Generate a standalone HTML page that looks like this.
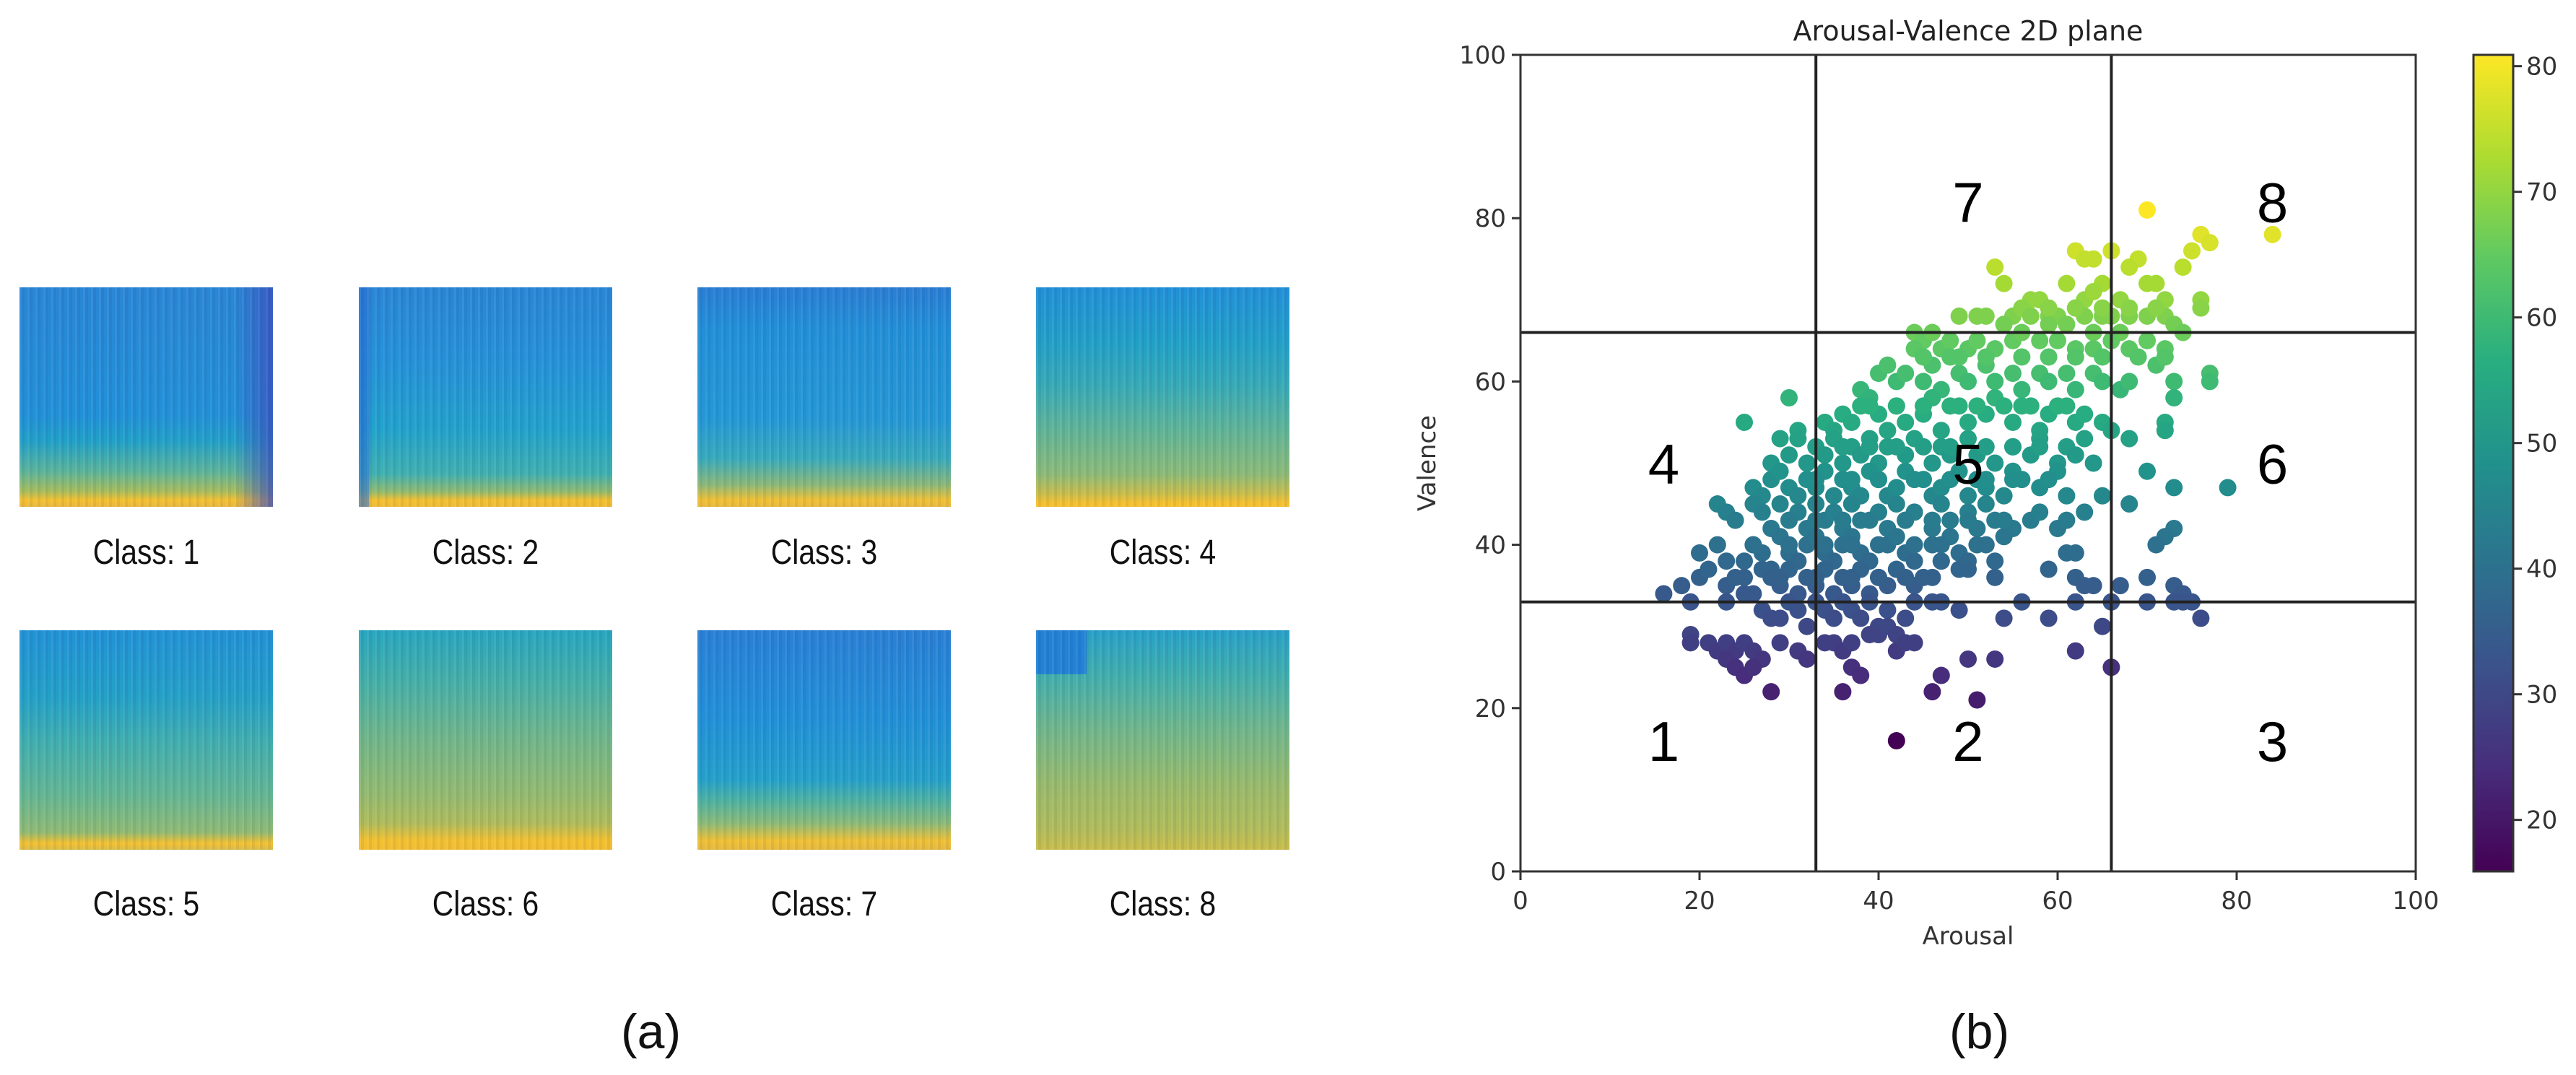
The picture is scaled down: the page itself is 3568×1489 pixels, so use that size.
<!DOCTYPE html>
<html><head><meta charset="utf-8">
<style>
html,body{margin:0;padding:0;background:#fff;}
body{width:3568px;height:1489px;position:relative;overflow:hidden;font-family:"Liberation Sans",sans-serif;}
.spec{position:absolute;width:351px;height:304px;}
.spec::after{content:"";position:absolute;inset:0;background:repeating-linear-gradient(90deg,rgba(255,255,255,0.06) 0 3px,rgba(0,0,40,0.05) 3px 7px,rgba(255,255,255,0) 7px 11px);}
.lbl{position:absolute;width:351px;text-align:center;font-size:48px;color:#111;transform:scaleX(0.85);}
.cap{position:absolute;font-size:68px;color:#111;}
</style></head>
<body>
<div>
<div class="spec" style="left:27px;top:398px;background:linear-gradient(90deg,rgba(0,0,0,0) 85%,rgba(60,80,190,0.8) 100%),linear-gradient(180deg,#2a86d6 0%,#2290d8 58%,#22a0c8 70%,#5cb49a 84%,#a8bc5c 93%,#f4c030 97%,#e8b840 100%);"></div>
<div class="spec" style="left:497px;top:398px;background:linear-gradient(90deg,rgba(40,110,210,0.6) 0 4%,rgba(0,0,0,0) 4%),linear-gradient(180deg,#2a86d6 0%,#2592d8 35%,#22a2cc 65%,#40b0b0 85%,#90ba70 93%,#f4c030 97%,#eebb38 100%);"></div>
<div class="spec" style="left:966px;top:398px;background:linear-gradient(180deg,#2a7ed4 0%,#2290d8 20%,#2598d6 60%,#38aabc 78%,#8cb878 90%,#f0c034 97%,#e8b840 100%);"></div>
<div class="spec" style="left:1435px;top:398px;background:linear-gradient(180deg,#2290d8 0%,#22a0c8 25%,#38aab6 45%,#60b498 65%,#8cba78 85%,#c8bd4c 94%,#f4c030 98%);"></div>
<div class="spec" style="left:27px;top:873px;background:linear-gradient(180deg,#2292d6 0%,#24a0c8 30%,#40aeb0 50%,#64b694 75%,#90ba74 92%,#f4c030 97%,#d8bc48 100%);"></div>
<div class="spec" style="left:497px;top:873px;background:linear-gradient(180deg,#28a6c0 0%,#48b0a6 25%,#72b68a 50%,#94ba70 75%,#b0bc5c 88%,#f4c030 96%,#f0be34 100%);"></div>
<div class="spec" style="left:966px;top:873px;background:linear-gradient(180deg,#2a80d6 0%,#2290d8 40%,#24a0ca 68%,#50b2a0 78%,#8cba78 88%,#f0c034 96%,#e4b840 100%);"></div>
<div class="spec" style="left:1435px;top:873px;background:linear-gradient(90deg,rgba(34,130,214,1) 0 20%,rgba(0,0,0,0) 20%) top/100% 20% no-repeat,linear-gradient(180deg,#28a0c8 0%,#40aeae 20%,#70b68c 45%,#98ba6c 70%,#b0bc5c 90%,#c8bd4c 100%);"></div>
<div class="lbl" style="left:27px;top:738px;">Class: 1</div>
<div class="lbl" style="left:497px;top:738px;">Class: 2</div>
<div class="lbl" style="left:966px;top:738px;">Class: 3</div>
<div class="lbl" style="left:1435px;top:738px;">Class: 4</div>
<div class="lbl" style="left:27px;top:1225px;">Class: 5</div>
<div class="lbl" style="left:497px;top:1225px;">Class: 6</div>
<div class="lbl" style="left:966px;top:1225px;">Class: 7</div>
<div class="lbl" style="left:1435px;top:1225px;">Class: 8</div>
<div class="cap" style="left:860px;top:1390px;">(a)</div>
</div>
<div class="cap" style="left:2700px;top:1390px;">(b)</div>
<svg id="chart" width="3568" height="1489" style="position:absolute;left:0;top:0;">
<defs><linearGradient id="cbg" x1="0" y1="1" x2="0" y2="0">
<stop offset="0" stop-color="#440154"/><stop offset="0.125" stop-color="#472d7b"/><stop offset="0.25" stop-color="#3b528b"/><stop offset="0.375" stop-color="#2c728e"/><stop offset="0.5" stop-color="#21918c"/><stop offset="0.625" stop-color="#28ae80"/><stop offset="0.75" stop-color="#5ec962"/><stop offset="0.875" stop-color="#addc30"/><stop offset="1" stop-color="#fde725"/>
</linearGradient></defs>
</svg>
<script>
const xTicks=[0,20,40,60,80,100];
const yTicks=[0,20,40,60,80,100];
const cbTicks=[20,30,40,50,60,70,80];
const dividers=[33,66];
const regionLabels=["1","2","3","4","5","6","7","8"];
const regionX=[16,50,84,16,50,84,50,84];
const regionY=[16,16,16,50,50,50,82,82];
const arousal=[70,84,76,77,75,74,62,66,63,64,69,68,53,
54,61,70,71,65,57,58,63,64,67,72,76,76,
49,51,52,55,56,57,59,60,61,62,63,65,66,68,70,72,73,59,54,64,67,
44,45,46,47,48,50,51,53,55,56,58,60,62,64,66,68,70,72,74,71,72,44,48,
38,40,41,42,43,45,46,47,49,50,52,53,55,56,58,59,61,62,64,65,67,68,73,73,77,77,30,39,
34,35,36,37,38,40,41,42,43,45,46,47,49,50,52,53,55,56,58,59,61,62,63,65,66,68,72,72,25,29,31,
28,30,31,32,33,34,35,36,37,38,39,40,41,43,44,46,47,48,50,51,53,55,57,58,60,61,62,63,64,
26,27,28,29,30,31,32,33,34,35,36,37,38,39,40,41,42,43,45,46,47,49,50,51,52,54,55,56,58,60,61,65,70,73,79,
22,23,24,26,27,28,29,30,31,32,33,34,35,36,37,38,40,41,42,43,44,46,47,48,50,51,52,53,55,57,58,60,61,63,68,73,72,71,
20,22,23,25,26,27,28,29,30,31,32,33,34,35,36,37,38,39,41,42,43,44,46,47,48,49,50,51,53,54,59,61,62,
16,18,20,21,23,24,26,27,28,29,30,31,32,33,34,35,36,37,38,39,40,41,42,44,45,47,49,50,53,62,63,64,67,70,73,74,
19,23,25,27,28,29,30,31,32,33,34,35,36,37,38,39,40,41,43,44,46,47,49,54,56,59,62,66,70,73,74,75,76,65,
19,19,21,22,23,24,25,26,27,29,31,32,34,35,36,37,39,40,41,42,42,43,44,62,
23,24,25,26,28,36,37,38,46,47,50,51,53,66,42,
39,42,45,48,51,54,57,60,
36,39,42,45,48,52,55,58,
33,37,40,44,48,52,55,59,
30,33,36,39,43,46,50,54,
26,30,34,37,40,44,47,52,
25,29,33,37,40,43,46,
45,49,52,56,59,62,65,69,
59,62,65,68,71];
const valence=[81,78,78,77,76,74,76,76,75,75,75,74,74,
72,72,72,72,72,70,70,70,71,70,70,70,69,
68,68,68,68,69,68,68,68,67,69,68,68,68,68,68,68,67,67,67,66,66,
66,65,66,64,65,64,65,64,65,66,65,65,64,64,65,64,65,64,66,62,63,64,63,
59,61,62,60,61,60,62,59,61,60,62,60,61,59,61,60,61,59,61,60,59,60,60,58,61,60,58,58,
55,54,56,55,57,56,54,57,55,56,58,54,57,55,56,58,55,57,54,56,57,55,56,55,54,53,55,54,55,53,54,
50,51,53,50,52,51,53,50,52,51,53,50,52,51,53,50,52,51,53,51,50,52,51,53,50,52,51,53,50,
47,46,48,49,47,46,48,47,49,46,48,47,46,49,48,46,47,49,48,46,47,49,46,48,47,46,49,48,47,49,46,46,49,47,47,
45,44,43,45,44,42,45,43,44,42,45,43,44,42,45,43,44,42,45,43,44,42,45,43,44,42,45,43,42,43,44,42,43,44,45,42,41,40,
39,40,38,38,40,39,37,41,39,38,40,41,39,38,40,41,39,38,40,41,39,38,40,38,41,39,38,40,38,41,37,39,39,
34,35,36,37,35,36,34,37,36,35,37,34,36,35,37,34,36,35,37,34,36,35,37,35,36,38,37,37,36,36,35,35,35,36,35,34,
33,33,34,32,31,31,33,32,30,33,32,31,33,32,31,33,30,32,31,33,33,33,32,31,33,31,33,33,33,33,33,33,31,30,
29,28,28,27,28,27,28,27,26,28,27,26,28,28,27,28,29,29,30,29,27,28,28,27,
26,25,24,25,22,22,25,24,22,24,26,21,26,25,16,
57,57,57,57,57,57,57,57,
52,52,52,52,52,52,52,52,
48,48,48,48,48,48,48,48,
43,43,43,43,43,43,43,43,
40,40,40,40,40,40,40,40,
36,36,36,36,36,36,36,
63,63,63,63,63,63,63,63,
69,69,69,69,69];
const X0=2106,X1=3346,Y0=1207,Y1=76;
const CB_L=3426,CB_R=3481,CMIN=15.9,CMAX=80.9;
function xs(v){return X0+(X1-X0)*v/100;}
function ys(v){return Y0-(Y0-Y1)*v/100;}
function cs(v){return Y0-(Y0-Y1)*(v-CMIN)/(CMAX-CMIN);}
const vir=[[68,1,84],[71,45,123],[59,82,139],[44,114,142],[33,145,140],[40,174,128],[94,201,98],[173,220,48],[253,231,37]];
function viridis(v){let t=Math.max(0,Math.min(1,(v-CMIN)/(CMAX-CMIN)))*8;let i=Math.min(7,Math.floor(t));let f=t-i;let a=vir[i],b=vir[i+1];
return 'rgb('+[0,1,2].map(k=>Math.round(a[k]+(b[k]-a[k])*f)).join(',')+')';}
const NS='http://www.w3.org/2000/svg';
const svg=document.getElementById('chart');
function mk(tag,attrs,parent){const e=document.createElementNS(NS,tag);for(const k in attrs)e.setAttribute(k,attrs[k]);(parent||svg).appendChild(e);return e;}
const pg=mk('g',{});


arousal.forEach((a,i)=>{const c=mk('circle',{cx:xs(arousal[i]),cy:ys(valence[i]),r:12,fill:viridis(valence[i])},pg);

});
dividers.forEach(d=>{
const l1=mk('line',{x1:xs(d),x2:xs(d),y1:Y1,y2:Y0,stroke:'#222','stroke-width':4});


const l2=mk('line',{x1:X0,x2:X1,y1:ys(d),y2:ys(d),stroke:'#222','stroke-width':4});

});
const fr=mk('rect',{x:X0,y:Y1,width:X1-X0,height:Y0-Y1,fill:'none',stroke:'#333','stroke-width':3});


xTicks.forEach(t=>{mk('line',{x1:xs(t),x2:xs(t),y1:Y0,y2:Y0+12,stroke:'#333','stroke-width':3});
const tx=mk('text',{x:xs(t),y:Y0+52,'text-anchor':'middle','font-size':34,fill:'#333','font-family':'DejaVu Sans, sans-serif'});tx.textContent=t;

});
yTicks.forEach(t=>{mk('line',{x1:X0-12,x2:X0,y1:ys(t),y2:ys(t),stroke:'#333','stroke-width':3});
const tx=mk('text',{x:X0-20,y:ys(t)+12,'text-anchor':'end','font-size':34,fill:'#333','font-family':'DejaVu Sans, sans-serif'});tx.textContent=t;

});
regionLabels.forEach((s,i)=>{const tx=mk('text',{x:xs(regionX[i]),y:ys(regionY[i])+28,'text-anchor':'middle','font-size':78,fill:'#000','font-family':'Liberation Sans, sans-serif'});tx.textContent=s;

});
const ti=mk('text',{x:(X0+X1)/2,y:56,'text-anchor':'middle','font-size':38,fill:'#222','font-family':'DejaVu Sans, sans-serif'});ti.textContent='Arousal-Valence 2D plane';


const xl=mk('text',{x:(X0+X1)/2,y:1308,'text-anchor':'middle','font-size':34,fill:'#333','font-family':'DejaVu Sans, sans-serif'});xl.textContent='Arousal';


const yl=mk('text',{x:1988,y:(Y0+Y1)/2,'text-anchor':'middle','font-size':34,fill:'#333','font-family':'DejaVu Sans, sans-serif',transform:'rotate(-90 1988 '+((Y0+Y1)/2)+')'});yl.textContent='Valence';


const cb=mk('rect',{x:CB_L,y:Y1,width:CB_R-CB_L,height:Y0-Y1,fill:'url(#cbg)',stroke:'#333','stroke-width':3});


cbTicks.forEach(t=>{mk('line',{x1:CB_R,x2:CB_R+12,y1:cs(t),y2:cs(t),stroke:'#333','stroke-width':3});
const tx=mk('text',{x:CB_R+18,y:cs(t)+12,'font-size':34,fill:'#333','font-family':'DejaVu Sans, sans-serif'});tx.textContent=t;

});
</script>
</body></html>
